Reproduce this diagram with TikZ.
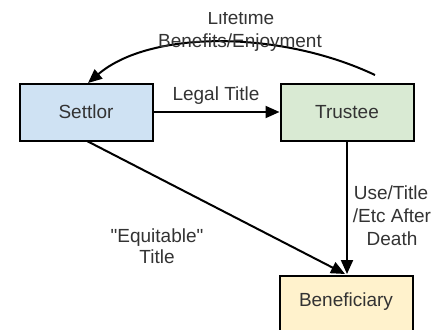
\documentclass[tikz,border=0pt]{standalone}
\usepackage{fontspec}
\setmainfont{Liberation Sans}
\newfontfamily\plainsans{Liberation Sans}[Ligatures=TeXOff]
\usetikzlibrary{arrows.meta}
\definecolor{setfill}{HTML}{CFE2F3}
\definecolor{trufill}{HTML}{D9EAD3}
\definecolor{benfill}{HTML}{FFF2CC}
\definecolor{txt}{HTML}{333333}
\begin{document}
\begin{tikzpicture}[x=1pt,y=-1pt,
  box/.style={draw=black,line width=2pt,minimum width=133pt,minimum height=57pt,inner sep=0pt,text=txt,font=\fontsize{19}{22}\selectfont},
  lbl/.style={text=txt,font=\fontsize{19}{22}\selectfont,align=center,inner sep=0pt},
  conn/.style={draw=black,line width=2pt,-{Triangle[length=14pt,width=12pt]}}]
\useasboundingbox (0,0) rectangle (443,329);
\clip (0,13) rectangle (443,329);
\node[box,fill=setfill] (settlor) at (86,112) {Settlor};
\node[box,fill=trufill] (trustee) at (347,112) {Trustee};
\node[box,fill=benfill,minimum height=70pt,anchor=north,text depth=0pt] (ben) at (346.5,275) {};
\node[lbl] (bentxt) at (346,302) {Beneficiary};
\coordinate (cs) at (375,75);
\coordinate (ce) at (88,83);
\coordinate (ds) at (87,141);
\coordinate (de) at (345,274);
\coordinate (vs) at (347,141);
\coordinate (ve) at (347,274);
\draw[conn] (settlor.east) -- (trustee.west);
\draw[conn] (cs) .. controls (280,30) and (150,30) .. (ce);
\draw[conn] (ds) -- (de);
\draw[conn] (vs) -- (ve);
\node[lbl,anchor=base] (legal) at (216,100) {Legal Title};
\node[lbl,anchor=base] (life1) at (241,25) {Lifetime};
\node[lbl,anchor=base] (life2) at (240,47) {Benefits/Enjoyment};
\node[lbl,anchor=base] (use1) at (391,199) {Use/Title};
\node[lbl,anchor=base] (use2) at (392,222) {/Etc After};
\node[lbl,anchor=base] (use3) at (392,245) {Death};
\node[lbl,anchor=base] (eq1) at (157,242) {\plainsans "Equitable"};
\node[lbl,anchor=base] (eq2) at (157,263) {Title};
\end{tikzpicture}
\end{document}
